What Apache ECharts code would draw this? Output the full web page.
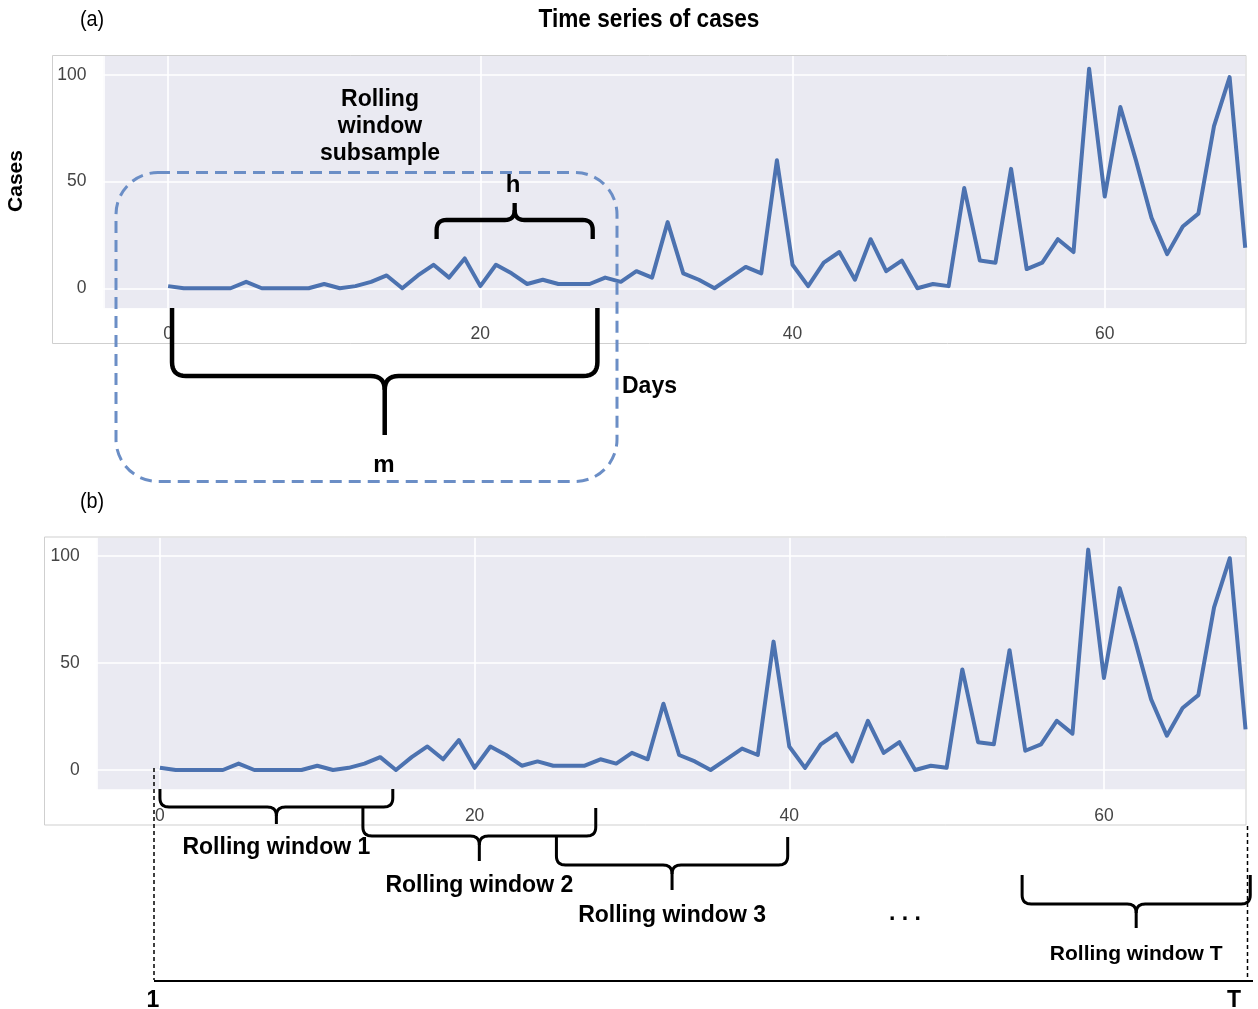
<!DOCTYPE html>
<html>
<head>
<meta charset="utf-8">
<script src="https://cdn.jsdelivr.net/npm/echarts@6/dist/echarts.min.js"></script>
<style>
html,body{margin:0;padding:0;background:#fff;}
#chart{width:1258px;height:1009px;}
</style>
</head>
<body>
<div id="chart"></div>
<script>
// ---- data ----
const cases = [1,0,0,0,0,3,0,0,0,0,2,0,1,3,6,0,6,11,5,14,1,11,7,2,4,2,2,2,5,3,8,5,31,7,4,0,5,10,7,60,11,1,12,17,4,23,8,13,0,2,1,47,13,12,56,9,12,23,17,103,43,85,60,33,16,29,35,76,99,19];
const xTicks = [0, 20, 40, 60];
const yTicks = [0, 50, 100];
// annotation windows, in days
const hWindow = [17.2, 27.2];
const mWindow = [0.25, 27.5];
const rollWindows = [[0, 14.8], [12.9, 27.7], [25.2, 39.9], [54.8, 69.3]];
const rollLabels = ['Rolling window 1', 'Rolling window 2', 'Rolling window 3', 'Rolling window T'];
const rollLabelSize = [23, 23, 23, 21];

const FONT = '"Liberation Sans", Arial, Helvetica, sans-serif';
const LINE_COLOR = '#4c72b0';

const chart = echarts.init(document.getElementById('chart'), null, {renderer: 'canvas'});

function xAxisCfg(grid, min, max) {
  return {
    type: 'value', gridIndex: grid, min: min, max: max,
    minInterval: 20, maxInterval: 20, splitNumber: 4,
    axisLine: {show: false}, axisTick: {show: false},
    axisLabel: {
      margin: 17, color: '#444', fontSize: 17.5, fontFamily: FONT,
      formatter: v => xTicks.includes(v) ? String(v) : ''
    },
    splitLine: {show: true, lineStyle: {color: '#ffffff', width: 1.6}}
  };
}
function yAxisCfg(grid, min, max) {
  return {
    type: 'value', gridIndex: grid, min: min, max: max,
    minInterval: 50, maxInterval: 50, splitNumber: 2,
    axisLine: {show: false}, axisTick: {show: false},
    axisLabel: {
      margin: 17, color: '#444', fontSize: 17.5, fontFamily: FONT,
      formatter: v => yTicks.includes(v) ? String(v) : ''
    },
    splitLine: {show: true, lineStyle: {color: '#ffffff', width: 1.6}}
  };
}
const seriesData = cases.map((v, i) => [i, v]);

chart.setOption({
  animation: false,
  grid: [
    {left: 103.5, top: 55, width: 1142.5, height: 253.3, show: true, backgroundColor: '#eaeaf2', borderWidth: 0},
    {left: 96.7, top: 537, width: 1149.3, height: 253, show: true, backgroundColor: '#eaeaf2', borderWidth: 0}
  ],
  xAxis: [xAxisCfg(0, -4.14, 69.05), xAxisCfg(1, -4.02, 69.03)],
  yAxis: [yAxisCfg(0, -9.4, 109.4), yAxisCfg(1, -9.35, 108.9)],
  series: [
    {type: 'line', xAxisIndex: 0, yAxisIndex: 0, data: seriesData, showSymbol: false, symbol: 'none',
     lineStyle: {color: LINE_COLOR, width: 4, join: 'round'}, z: 2},
    {type: 'line', xAxisIndex: 1, yAxisIndex: 1, data: seriesData, showSymbol: false, symbol: 'none',
     lineStyle: {color: LINE_COLOR, width: 4, join: 'round'}, z: 2}
  ]
});

// ---- annotation helpers ----
function quad(p0, c, p1, n) {
  const pts = [];
  for (let k = 1; k <= n; k++) {
    const t = k / n, a = (1 - t) * (1 - t), b = 2 * (1 - t) * t, d = t * t;
    pts.push([a * p0[0] + b * c[0] + d * p1[0], a * p0[1] + b * c[1] + d * p1[1]]);
  }
  return pts;
}
function brace(x1, x2, yEnd, yH, yTip, r, lw) {
  const s = yTip > yH ? 1 : -1;
  const xc = (x1 + x2) / 2;
  const left = [[x1, yEnd], [x1, yH - s * r]]
    .concat(quad([x1, yH - s * r], [x1, yH], [x1 + r, yH], 8))
    .concat([[xc - r, yH]])
    .concat(quad([xc - r, yH], [xc, yH], [xc, yH + s * r], 8))
    .concat([[xc, yTip]]);
  const right = [[x2, yEnd], [x2, yH - s * r]]
    .concat(quad([x2, yH - s * r], [x2, yH], [x2 - r, yH], 8))
    .concat([[xc + r, yH]])
    .concat(quad([xc + r, yH], [xc, yH], [xc, yH + s * r], 8));
  const st = {stroke: '#000', lineWidth: lw, fill: 'none', lineJoin: 'round', lineCap: 'butt'};
  return [
    {type: 'polyline', z: 100, silent: true, shape: {points: left}, style: Object.assign({}, st)},
    {type: 'polyline', z: 100, silent: true, shape: {points: right}, style: Object.assign({}, st)}
  ];
}
function txt(text, x, y, size, weight, extra) {
  return Object.assign({
    type: 'text', x: x, y: y, z: 100, silent: true,
    style: {
      text: text, x: 0, y: 0, fill: '#000',
      font: weight + ' ' + size + 'px ' + FONT,
      align: 'center', textAlign: 'center',
      verticalAlign: 'middle', textVerticalAlign: 'middle'
    }
  }, extra || {});
}
function line(x1, y1, x2, y2, lw, dash) {
  return {type: 'line', z: 100, silent: true, shape: {x1: x1, y1: y1, x2: x2, y2: y2},
          style: {stroke: '#000', lineWidth: lw, lineDash: dash || null}};
}
const px0 = d => chart.convertToPixel({xAxisIndex: 0}, d);
const px1 = d => chart.convertToPixel({xAxisIndex: 1}, d);

let g = [];
// figure frames
g.push({type: 'rect', z: 0, silent: true, shape: {x: 52.5, y: 55.5, width: 1193.5, height: 288},
        style: {fill: 'none', stroke: '#cfcfcf', lineWidth: 1}});
g.push({type: 'rect', z: 0, silent: true, shape: {x: 44.5, y: 537, width: 1201.5, height: 288},
        style: {fill: 'none', stroke: '#cfcfcf', lineWidth: 1}});

// titles
g.push(txt('(a)', 92, 20, 22, 'normal', {scaleX: 0.9}));
g.push(txt('(b)', 92, 502, 22, 'normal', {scaleX: 0.9}));
g.push(txt('Time series of cases', 649, 20, 26, 'bold', {scaleX: 0.87}));
g.push(txt('Cases', 16, 181, 21, 'bold', {rotation: Math.PI / 2}));
g.push(txt('Days', 622, 387, 23, 'bold', {style: {
  text: 'Days', x: 0, y: 0, fill: '#000', font: 'bold 23px ' + FONT,
  align: 'left', textAlign: 'left', verticalAlign: 'middle', textVerticalAlign: 'middle'}}));

// panel (a) annotations
g.push({type: 'rect', z: 99, silent: true, shape: {x: 116, y: 172.5, width: 501, height: 309, r: 42},
        style: {fill: 'none', stroke: '#6b8ec6', lineWidth: 3, lineDash: [12, 7]}});
g.push(txt('Rolling\nwindow\nsubsample', 380, 127, 23, 'bold', {style: {
  text: 'Rolling\nwindow\nsubsample', x: 0, y: 0, fill: '#000', font: 'bold 23px ' + FONT, lineHeight: 27,
  align: 'center', textAlign: 'center', verticalAlign: 'middle', textVerticalAlign: 'middle'}}));
g = g.concat(brace(px0(hWindow[0]), px0(hWindow[1]), 239, 220, 203, 10, 4.3));
g.push(txt('h', 513, 185, 24, 'bold'));
g = g.concat(brace(px0(mWindow[0]), px0(mWindow[1]), 308, 376, 435, 14, 4.5));
g.push(txt('m', 384, 465, 24, 'bold'));

// panel (b) annotations
const rollEnd = [789, 808, 837, 875];
const rollH = [807, 836, 865, 904];
const rollTip = [824, 861, 890, 928];
const rollLabY = [848, 886, 916, 954];
rollWindows.forEach((w, i) => {
  const a = px1(w[0]), b = px1(w[1]);
  g = g.concat(brace(a, b, rollEnd[i], rollH[i], rollTip[i], 9, 3));
  g.push(txt(rollLabels[i], (a + b) / 2, rollLabY[i], rollLabelSize[i], 'bold'));
});
g.push(txt('. . .', 905, 914, 23, 'bold'));
g.push(line(154, 768, 154, 980, 1.5, [4, 3]));
g.push(line(1247.5, 826, 1247.5, 980, 1.5, [4, 3]));
g.push(line(154, 981, 1253, 981, 2.2));
g.push(txt('1', 153, 1001, 23, 'bold'));
g.push(txt('T', 1234, 1001, 23, 'bold'));

chart.setOption({graphic: {elements: g}});
</script>
</body>
</html>
